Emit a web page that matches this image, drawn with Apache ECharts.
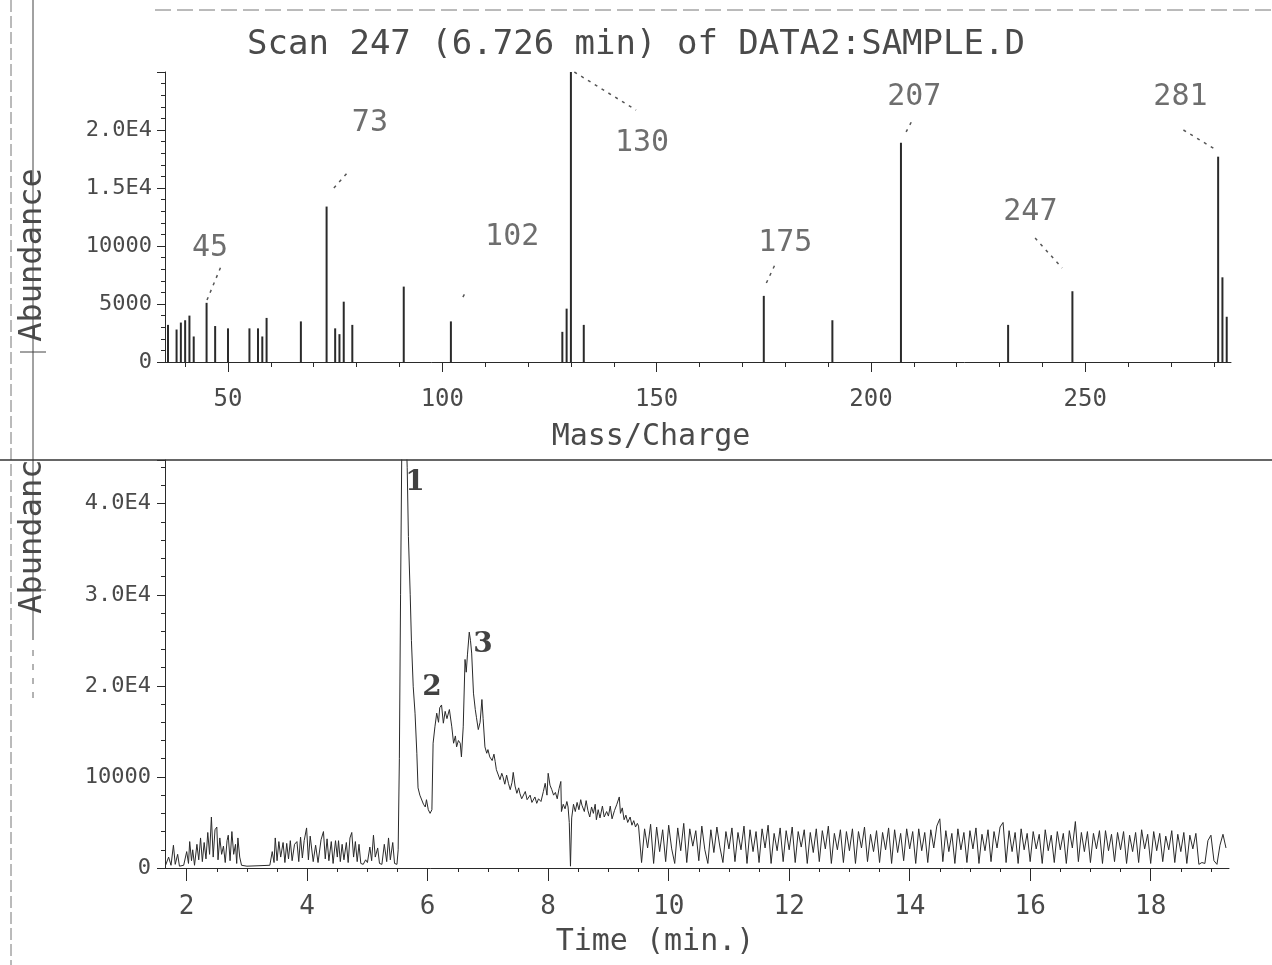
<!DOCTYPE html>
<html><head><meta charset="utf-8">
<script src="https://cdn.jsdelivr.net/npm/echarts@6/dist/echarts.min.js"></script>
<style>html,body{margin:0;padding:0;background:#fff}#c{width:1272px;height:965px}</style>
</head><body><div id="c"></div>
<script>
// ---------- Mass spectrum (scan 247) ----------
const massCharge = [36,38,39,40,41,42,45,47,50,55,57,58,59,67,73,75,76,77,79,91,102,128,129,130,133,175,191,207,232,247,281,282,283];
const abundance  = [3200,2800,3400,3600,4000,2200,5100,3100,2900,2900,2900,2200,3800,3500,13400,2900,2400,5200,3200,6500,3500,2600,4600,25000,3200,5700,3600,18900,3200,6100,17700,7300,3900];
const massMajorTicks = [50,100,150,200,250];
const massMinorTicks = [40,50,60,70,80,90,100,110,120,130,140,150,160,170,180,190,200,210,220,230,240,250,260,270,280];
const abundanceTickValues = [0,5000,10000,15000,20000];
const abundanceTickLabels = ['0','5000','10000','1.5E4','2.0E4'];
const peakLabelNames = ['45','73','102','130','175','207','247','281'];
const peakLabelMz    = [45.8,83.1,116.3,146.6,180.0,210.1,237.2,272.2];
const peakLabelAbund = [9830,20600,10780,18880,10260,22840,12930,22840];
const leaderFrom = [[45.1,5340],[74.7,15000],[104.8,5600],[130.8,25000],[175.6,6810],[208.2,19830],[238.3,10690],[272.9,20000]];
const leaderTo   = [[48.6,8450],[78.2,16460],[105.4,6000],[145.2,21720],[177.9,8620],[209.9,21030],[244.6,8100],[280.6,18270]];

// ---------- Total ion chromatogram ----------
const ticPrePeak = [[1.65,300],[1.70,1200],[1.74,300],[1.78,2500],[1.81,400],[1.85,1500],[1.88,200],[1.95,300],[2.00,1800],[2.03,500],[2.05,2900],[2.08,800],[2.10,2000],[2.13,300],[2.17,2600],[2.20,900],[2.23,3300],[2.26,700],[2.29,2800],[2.32,1000],[2.35,3900],[2.38,1500],[2.41,5600],[2.44,1200],[2.47,4200],[2.50,4500],[2.52,900],[2.55,3300],[2.58,1500],[2.61,2400],[2.64,600],[2.67,3000],[2.69,3600],[2.72,800],[2.75,4000],[2.78,1500],[2.81,2600],[2.83,500],[2.85,3300],[2.88,1200],[2.91,300],[3.00,200],[3.20,250],[3.38,300],[3.42,1800],[3.45,600],[3.47,3300],[3.50,800],[3.53,2900],[3.56,1200],[3.60,2800],[3.63,600],[3.66,2700],[3.69,1000],[3.72,3000],[3.75,800],[3.79,2600],[3.83,2900],[3.86,700],[3.89,3400],[3.92,1100],[3.95,3000],[3.99,4400],[4.02,900],[4.05,3500],[4.07,3600],[4.10,700],[4.14,2500],[4.18,600],[4.23,3100],[4.27,4000],[4.30,1000],[4.33,3200],[4.36,800],[4.40,2900],[4.43,500],[4.47,3000],[4.50,1200],[4.52,3000],[4.55,700],[4.58,2600],[4.61,900],[4.65,2800],[4.68,600],[4.71,3300],[4.74,3900],[4.77,1200],[4.80,2900],[4.83,700],[4.86,2600],[4.89,500],[4.93,400],[4.97,900],[5.00,600],[5.04,2300],[5.07,800],[5.10,3600],[5.13,1200],[5.17,2200],[5.20,500],[5.24,400],[5.28,2600],[5.32,700],[5.35,3300],[5.38,900],[5.42,2800],[5.45,500],[5.49,400]];
const ticPeakRegion = [[5.51,2000],[5.53,12000],[5.55,30000],[5.57,46000],[5.60,52000],[5.63,50000],[5.66,44000],[5.68,36400],[5.71,30000],[5.73,25000],[5.76,19900],[5.79,17000],[5.82,12600],[5.84,8800],[5.87,8000],[5.90,8200],[5.93,7000],[5.96,6700],[5.98,7500],[6.01,6400],[6.04,6000],[6.07,6400],[6.09,13700],[6.12,15500],[6.15,17000],[6.18,16000],[6.20,17600],[6.23,17900],[6.26,15900],[6.29,17200],[6.32,16400],[6.36,17400],[6.40,15500],[6.43,13700],[6.46,14500],[6.48,13300],[6.51,14000],[6.54,13700],[6.56,12200],[6.59,15500],[6.62,22900],[6.64,21500],[6.66,23400],[6.69,25900],[6.71,25000],[6.73,23600],[6.76,19200],[6.79,17400],[6.81,16500],[6.84,15200],[6.87,16000],[6.90,18500],[6.92,16400],[6.95,13300],[6.98,12600],[7.00,13000],[7.03,12200],[7.07,11800],[7.10,12500],[7.12,11700],[7.14,10800],[7.17,11000],[7.20,9700],[7.23,10400],[7.25,10000],[7.28,9200],[7.31,10200],[7.34,9300],[7.37,8600],[7.40,9400],[7.42,10500],[7.45,9000],[7.48,8200],[7.51,8800],[7.53,8200],[7.56,7600],[7.59,7800],[7.62,8400],[7.65,7500],[7.70,8000],[7.73,7200],[7.75,7100],[7.78,7800],[7.81,7100],[7.84,7600],[7.88,7300],[7.92,8400],[7.95,9300],[7.98,8000],[8.00,10400],[8.03,9100],[8.06,8600],[8.09,8000],[8.12,8300],[8.15,7600],[8.18,8700],[8.21,9500],[8.22,6200],[8.25,7000],[8.28,6500],[8.31,7300],[8.33,6700],[8.35,5000],[8.37,200],[8.39,5500],[8.42,7000],[8.45,6200],[8.48,7200],[8.51,6400],[8.54,7500],[8.56,6900],[8.60,6200],[8.63,7400],[8.66,6300],[8.69,5600],[8.72,6700],[8.75,6000],[8.78,7000],[8.80,5300],[8.83,6400],[8.86,5500],[8.90,6800],[8.93,5600],[8.97,6200],[9.00,5700],[9.03,6800],[9.06,5400],[9.10,6300],[9.14,7000],[9.18,7800],[9.20,6000],[9.23,6600],[9.26,5300],[9.29,5800],[9.32,5000],[9.36,5600],[9.39,4700],[9.42,5200],[9.45,4500],[9.48,4900]];
const ticTailStart = 9.50;   // min, first scan of the tail segment
const ticTailScanStep = 0.05; // min between tail scans
const ticTailValues = [
 4600,600,4300,2200,4800,500,4500,1800,4200,700,
 4700,2100,500,4400,1900,4900,600,4300,2400,4100,
 800,4600,2000,500,4200,1700,4500,2300,600,4000,
 2100,4400,700,3900,2000,4600,500,4200,1800,4000,
 600,4300,2200,4700,500,3800,1900,4400,700,4100,
 2000,4500,600,4000,2300,4200,500,3900,1700,4300,
 700,4100,2100,4600,500,3800,2000,4200,600,4000,
 1900,4300,500,4000,2200,4500,700,3700,1800,4100,
 600,3900,2000,4400,500,4200,1700,3800,800,4300,
 2100,4000,500,4300,1900,3900,600,4200,2200,4600,
 5400,700,4100,1800,3800,500,4300,2000,3900,600,
 4100,2100,4400,500,3700,1900,4200,700,4000,2200,
 4500,5000,600,4100,1800,3900,500,4300,2000,3800,
 700,4000,2100,3700,500,4200,1900,3600,600,4000,
 2000,3800,500,4100,2200,5100,700,3900,1800,4000,
 600,3800,2100,4100,500,4100,1900,3700,700,3900,
 2000,4000,500,3600,1800,3900,600,4200,2100,3700,
 500,4000,1900,3800,700,3500,2000,4100,600,3700,
 1800,3900,500,3600,2100,3800,400,600,500,3000,
 3600,800,400,2500,3700,2200];
const timeMajorTicks = [2,4,6,8,10,12,14,16,18];
const timeMinorTicks = [2,2.5,3,3.5,4,4.5,5,5.5,6,6.5,7,7.5,8,8.5,9,9.5,10,10.5,11,11.5,12,12.5,13,13.5,14,14.5,15,15.5,16,16.5,17,17.5,18,18.5,19];
const ticTickValues = [0,10000,20000,30000,40000];
const ticTickLabels = ['0','10000','2.0E4','3.0E4','4.0E4'];
const chromPeakNames = ['1','2','3'];
const chromPeakTimes = [5.79,6.07,6.92];
const chromPeakAbund = [42300,19800,24500];

// ---------- build ----------
const MONO = '"DejaVu Sans Mono", monospace';
const INK = '#2a2a2a';
const TXT = '#4a4a4a';

const ticData = ticPrePeak.concat(ticPeakRegion,
  ticTailValues.map((v, i) => [+(ticTailStart + i * ticTailScanStep).toFixed(2), v]));

function lookup(values, labels) {
  return function (v) { const i = values.indexOf(v); return i >= 0 ? labels[i] : ''; };
}

const chart = echarts.init(document.getElementById('c'), null, {renderer: 'canvas'});
chart.setOption({
  animation: false,
  backgroundColor: '#fff',
  title: {
    text: 'Scan 247 (6.726 min) of DATA2:SAMPLE.D',
    left: 'center', top: 28, padding: 0,
    textStyle: {fontFamily: MONO, fontWeight: 'normal', fontSize: 34, color: TXT}
  },
  grid: [
    {left: 165, right: 41, top: 72, bottom: 603},
    {left: 165, right: 43, top: 460, bottom: 97}
  ],
  xAxis: [
    {gridIndex: 0, type: 'value', min: 35.3, max: 284, position: 'bottom',
     axisLine: {show: true, lineStyle: {color: INK, width: 1}},
     axisTick: {show: true, length: 5, customValues: massMinorTicks, lineStyle: {color: INK}},
     axisLabel: {show: false}, splitLine: {show: false}},
    {gridIndex: 0, type: 'value', min: 35.3, max: 284, position: 'bottom',
     axisLine: {show: false},
     axisTick: {show: true, length: 10, customValues: massMajorTicks, lineStyle: {color: INK}},
     axisLabel: {show: true, customValues: massMajorTicks, margin: 26, fontFamily: MONO, fontSize: 24, color: TXT},
     splitLine: {show: false},
     name: 'Mass/Charge', nameLocation: 'middle', nameGap: 60,
     nameTextStyle: {fontFamily: MONO, fontSize: 30, color: TXT, padding: [0, 94, 0, 0]}},
    {gridIndex: 1, type: 'value', min: 1.64, max: 19.3, position: 'bottom', offset: 4,
     axisLine: {show: true, lineStyle: {color: INK, width: 1}},
     axisTick: {show: true, length: 4, customValues: timeMinorTicks, lineStyle: {color: INK}},
     axisLabel: {show: false}, splitLine: {show: false}},
    {gridIndex: 1, type: 'value', min: 1.64, max: 19.3, position: 'bottom', offset: 4,
     axisLine: {show: false},
     axisTick: {show: true, length: 9, customValues: timeMajorTicks, lineStyle: {color: INK}},
     axisLabel: {show: true, customValues: timeMajorTicks, margin: 22, fontFamily: MONO, fontSize: 26, color: TXT},
     splitLine: {show: false},
     name: 'Time (min.)', nameLocation: 'middle', nameGap: 55,
     nameTextStyle: {fontFamily: MONO, fontSize: 30, color: TXT, padding: [0, 84, 0, 0]}}
  ],
  yAxis: [
    {gridIndex: 0, type: 'value', min: 0, max: 25000, interval: 5000,
     axisLine: {show: true, lineStyle: {color: INK, width: 1}},
     axisTick: {show: true, length: 8, lineStyle: {color: INK}},
     minorTick: {show: true, splitNumber: 5, length: 4, lineStyle: {color: INK}},
     axisLabel: {show: true, margin: 13, fontFamily: MONO, fontSize: 22, color: TXT,
                 formatter: lookup(abundanceTickValues, abundanceTickLabels)},
     splitLine: {show: false}},
    {gridIndex: 1, type: 'value', min: 0, max: 44800, interval: 10000,
     axisLine: {show: true, lineStyle: {color: INK, width: 1}},
     axisTick: {show: true, length: 8, lineStyle: {color: INK}},
     minorTick: {show: true, splitNumber: 5, length: 4, lineStyle: {color: INK}},
     axisLabel: {show: true, margin: 14, fontFamily: MONO, fontSize: 22, color: TXT,
                 formatter: lookup(ticTickValues, ticTickLabels)},
     splitLine: {show: false}}
  ],
  series: [
    {type: 'bar', xAxisIndex: 0, yAxisIndex: 0, barWidth: 2, silent: true,
     itemStyle: {color: INK},
     data: massCharge.map((m, i) => [m, abundance[i]])},
    {type: 'scatter', xAxisIndex: 0, yAxisIndex: 0, symbolSize: 1, silent: true,
     itemStyle: {color: 'rgba(0,0,0,0)'},
     label: {show: true, position: 'inside', formatter: '{b}', fontFamily: MONO, fontSize: 30, color: TXT},
     data: peakLabelNames.map((n, i) => ({name: n, value: [peakLabelMz[i], peakLabelAbund[i]]}))},
    {type: 'lines', coordinateSystem: 'cartesian2d', xAxisIndex: 0, yAxisIndex: 0, silent: true,
     lineStyle: {color: '#555', width: 1.5, type: [3, 5], opacity: 1},
     data: leaderFrom.map((p, i) => ({coords: [p, leaderTo[i]]}))},
    {type: 'line', xAxisIndex: 2, yAxisIndex: 1, showSymbol: false, symbol: 'none', silent: true,
     clip: true, lineStyle: {color: INK, width: 1}, data: ticData},
    {type: 'scatter', xAxisIndex: 2, yAxisIndex: 1, symbolSize: 1, silent: true,
     itemStyle: {color: 'rgba(0,0,0,0)'},
     label: {show: true, position: 'inside', formatter: '{b}', fontFamily: '"DejaVu Serif", serif',
             fontWeight: 'bold', fontSize: 28, color: '#111'},
     data: chromPeakNames.map((n, i) => ({name: n, value: [chromPeakTimes[i], chromPeakAbund[i]]}))}
  ],
  graphic: [
    {type: 'line', z: 5, shape: {x1: 155, y1: 10, x2: 1272, y2: 10}, style: {stroke: '#777', lineWidth: 1, lineDash: [16, 6]}},
    {type: 'line', z: 5, shape: {x1: 11, y1: 0, x2: 11, y2: 965}, style: {stroke: '#777', lineWidth: 1, lineDash: [12, 4]}},
    {type: 'text', z: 10, x: 33, y: 255, rotation: Math.PI / 2,
     style: {text: 'Abundance', align: 'center', verticalAlign: 'middle', textAlign: 'center', textVerticalAlign: 'middle',
             fontFamily: MONO, fontSize: 32, fill: TXT}},
    {type: 'text', z: 10, x: 33, y: 527, rotation: Math.PI / 2,
     style: {text: 'Abundance', align: 'center', verticalAlign: 'middle', textAlign: 'center', textVerticalAlign: 'middle',
             fontFamily: MONO, fontSize: 32, fill: TXT}},
    {type: 'rect', z: 11, shape: {x: 14, y: 400, width: 40, height: 59}, style: {fill: '#fff'}},
    {type: 'line', z: 12, shape: {x1: 33, y1: 0, x2: 33, y2: 640}, style: {stroke: '#444', lineWidth: 1}},
    {type: 'line', z: 12, shape: {x1: 33, y1: 650, x2: 33, y2: 700}, style: {stroke: '#666', lineWidth: 1, lineDash: [6, 8]}},
    {type: 'line', z: 12, shape: {x1: 20, y1: 352, x2: 46, y2: 352}, style: {stroke: '#444', lineWidth: 1}},
    {type: 'line', z: 12, shape: {x1: 20, y1: 590, x2: 46, y2: 590}, style: {stroke: '#444', lineWidth: 1}},
    {type: 'line', z: 12, shape: {x1: 0, y1: 460, x2: 1272, y2: 460}, style: {stroke: '#333', lineWidth: 1.5}}
  ]
});
</script>
</body></html>
